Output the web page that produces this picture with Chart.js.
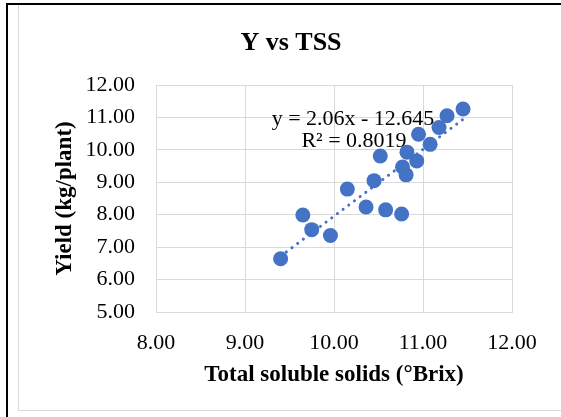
<!DOCTYPE html>
<html>
<head>
<meta charset="utf-8">
<script src="https://cdn.jsdelivr.net/npm/chart.js@4.4.1/dist/chart.umd.min.js"></script>
<style>
  body { margin: 0; background: #fff; }
  #wrap { position: relative; width: 561px; height: 417px; overflow: hidden; }
  #frame { position: absolute; left: 6px; top: 3px; width: 600px; height: 500px;
           border-left: 2px solid #000; border-top: 2px solid #000; }
  #area { position: absolute; left: 18px; top: 5px; width: 600px; height: 405px;
          border-left: 1px solid #d9d9d9; border-bottom: 1px solid #d9d9d9; }
  canvas { position: absolute; left: 0; top: 0; }
</style>
</head>
<body>
<div id="wrap">
  <div id="frame"></div>
  <div id="area"></div>
  <canvas id="chart" width="561" height="417"></canvas>
</div>
<script>
// === DATA ===
const tss   = [9.40, 9.65, 9.75, 9.96, 10.15, 10.36, 10.45, 10.58, 10.52, 10.76,
               10.77, 10.81, 10.82, 10.93, 10.95, 11.08, 11.18, 11.27, 11.45];
const yieldKg = [6.64, 7.99, 7.54, 7.36, 8.79, 8.24, 9.05, 8.15, 9.81, 8.02,
                 9.47, 9.23, 9.93, 9.66, 10.48, 10.17, 10.69, 11.05, 11.26];
const xTicks = [8, 9, 10, 11, 12];
const yTicks = [5, 6, 7, 8, 9, 10, 11, 12];
const slope = 2.06;
const intercept = -12.645;
const eqLines = ['y = 2.06x - 12.645', 'R\u00B2 = 0.8019'];

const BLUE = '#4472C4';
const FONT = "'Liberation Serif', 'Times New Roman', serif";

// === BUILD ===
const points = tss.map((x, i) => ({ x, y: yieldKg[i] }));
const xMin = Math.min(...tss), xMax = Math.max(...tss);
const trend = [xMin, xMax].map(x => ({ x, y: slope * x + intercept }));

// title + trendline label drawn on top
const overlay = {
  id: 'overlay',
  afterDraw(chart) {
    const ctx = chart.ctx;
    ctx.save();
    ctx.fillStyle = '#000';
    ctx.textAlign = 'center';
    ctx.textBaseline = 'middle';
    ctx.font = 'bold 26px ' + FONT;
    ctx.fillText('Y vs TSS', 291, 43);
    ctx.font = '22px ' + FONT;
    ctx.fillText(eqLines[0], 353, 119);
    ctx.fillText(eqLines[1], 354, 141);
    ctx.restore();
  }
};

new Chart(document.getElementById('chart'), {
  type: 'scatter',
  data: {
    datasets: [
      {
        type: 'line',
        data: trend,
        borderColor: BLUE,
        borderWidth: 3,
        borderDash: [0.1, 7],
        borderCapStyle: 'round',
        pointRadius: 0,
        fill: false,
        order: 0
      },
      {
        data: points,
        backgroundColor: BLUE,
        borderWidth: 0,
        pointRadius: 7.5,
        order: 1
      }
    ]
  },
  options: {
    responsive: false,
    animation: false,
    layout: { padding: { top: 85, right: 49, bottom: 0, left: 0 } },
    plugins: {
      legend: { display: false },
      tooltip: { enabled: false },
      title: { display: false }
    },
    scales: {
      x: {
        type: 'linear',
        min: 8, max: 12,
        afterBuildTicks: s => { s.ticks = xTicks.map(v => ({ value: v })); },
        afterFit: s => { s.height = 105; },
        grid: { color: '#d9d9d9', lineWidth: 1, drawTicks: false },
        border: { color: '#d9d9d9' },
        ticks: {
          padding: 18,
          color: '#000',
          font: { family: FONT, size: 22 },
          callback: v => v.toFixed(2)
        },
        title: {
          display: true,
          text: 'Total soluble solids (\u00B0Brix)',
          color: '#000',
          font: { family: FONT, size: 23, weight: 'bold' },
          padding: { top: 0, bottom: 28 }
        }
      },
      y: {
        type: 'linear',
        min: 5, max: 12,
        afterBuildTicks: s => { s.ticks = yTicks.map(v => ({ value: v })); },
        afterFit: s => { s.width = 156; },
        grid: { color: '#d9d9d9', lineWidth: 1, drawTicks: false },
        border: { color: '#d9d9d9' },
        ticks: {
          padding: 21,
          color: '#000',
          font: { family: FONT, size: 22 },
          callback: v => v.toFixed(2)
        },
        title: {
          display: true,
          text: 'Yield (kg/plant)',
          color: '#000',
          font: { family: FONT, size: 23, weight: 'bold' },
          padding: { top: 51, bottom: 0 }
        }
      }
    }
  },
  plugins: [overlay]
});
</script>
</body>
</html>
